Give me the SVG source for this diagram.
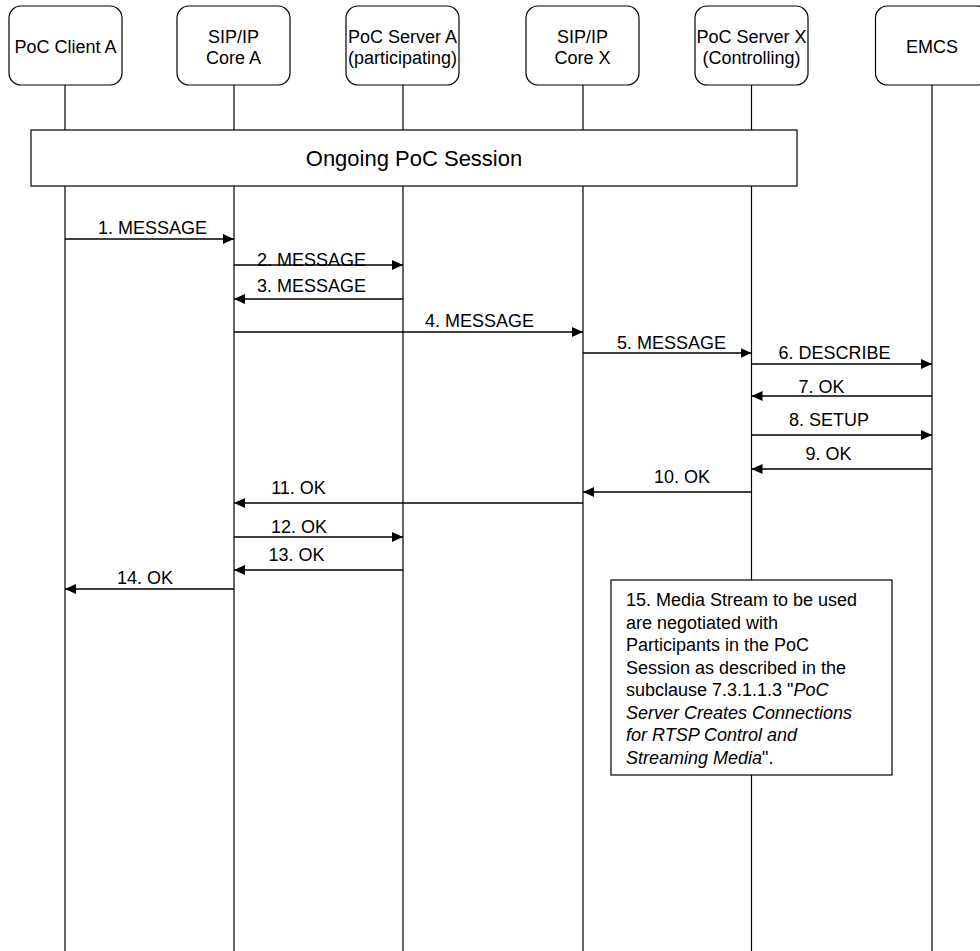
<svg xmlns="http://www.w3.org/2000/svg" width="980" height="951" viewBox="0 0 980 951">
<style>
  text { font-family: "Liberation Sans", Arial, sans-serif; font-size: 18px; fill: #000; }
  .hdr { fill: #fff; stroke: #000; stroke-width: 1.2; }
  .life { stroke: #000; stroke-width: 1.2; }
  .msg { stroke: #000; stroke-width: 1.6; fill: none; marker-end: url(#ah); }
  .box { fill: #fff; stroke: #000; stroke-width: 1.2; }
  .c { text-anchor: middle; }
  .it { font-style: italic; }
</style>
<defs>
  <marker id="ah" markerUnits="userSpaceOnUse" markerWidth="11" markerHeight="10" refX="11" refY="5" orient="auto">
    <path d="M0,0 L11,5 L0,10 z" fill="#000"/>
  </marker>
</defs>
<rect width="980" height="951" fill="#fff"/>
<g id="lifelines">
  <line class="life" x1="65" y1="85" x2="65" y2="951"/>
  <line class="life" x1="234" y1="85" x2="234" y2="951"/>
  <line class="life" x1="403" y1="85" x2="403" y2="951"/>
  <line class="life" x1="583" y1="85" x2="583" y2="951"/>
  <line class="life" x1="751.5" y1="85" x2="751.5" y2="951"/>
  <line class="life" x1="932" y1="85" x2="932" y2="951"/>
</g>
<g id="node-client-a">
  <rect class="hdr" x="9" y="6" width="113" height="79" rx="12"/>
  <text class="c" x="65.5" y="53">PoC Client A</text>
</g>
<g id="node-sipip-a">
  <rect class="hdr" x="177" y="6" width="113" height="79" rx="12"/>
  <text class="c" x="233.5" y="43">SIP/IP</text>
  <text class="c" x="233.5" y="64">Core A</text>
</g>
<g id="node-server-a">
  <rect class="hdr" x="346" y="6" width="113" height="79" rx="12"/>
  <text class="c" x="402.5" y="43">PoC Server A</text>
  <text class="c" x="402.5" y="64">(participating)</text>
</g>
<g id="node-sipip-x">
  <rect class="hdr" x="526" y="6" width="113" height="79" rx="12"/>
  <text class="c" x="582.5" y="43">SIP/IP</text>
  <text class="c" x="582.5" y="64">Core X</text>
</g>
<g id="node-server-x">
  <rect class="hdr" x="695" y="6" width="113" height="79" rx="12"/>
  <text class="c" x="751.5" y="43">PoC Server X</text>
  <text class="c" x="751.5" y="64">(Controlling)</text>
</g>
<g id="node-emcs">
  <rect class="hdr" x="875.5" y="6" width="113" height="79" rx="12"/>
  <text class="c" x="932" y="53">EMCS</text>
</g>
<g id="ongoing-session">
  <rect class="box" x="31" y="130" width="766" height="56"/>
  <text class="c" x="414" y="166" style="font-size:22px">Ongoing PoC Session</text>
</g>
<g id="connectors">
  <line class="msg" x1="65" y1="239" x2="234" y2="239"/>
  <text class="c" x="152.5" y="234">1. MESSAGE</text>
  <line class="msg" x1="234" y1="265" x2="403" y2="265"/>
  <text class="c" x="311.5" y="266">2. MESSAGE</text>
  <line class="msg" x1="403" y1="299" x2="234" y2="299"/>
  <text class="c" x="311.5" y="292">3. MESSAGE</text>
  <line class="msg" x1="234" y1="332" x2="583" y2="332"/>
  <text class="c" x="479.5" y="327">4. MESSAGE</text>
  <line class="msg" x1="583" y1="353" x2="751.5" y2="353"/>
  <text class="c" x="671.5" y="349">5. MESSAGE</text>
  <line class="msg" x1="751.5" y1="364" x2="932" y2="364"/>
  <text class="c" x="834.5" y="359">6. DESCRIBE</text>
  <line class="msg" x1="932" y1="396" x2="751.5" y2="396"/>
  <text class="c" x="821.5" y="393">7. OK</text>
  <line class="msg" x1="751.5" y1="435" x2="932" y2="435"/>
  <text class="c" x="829" y="426">8. SETUP</text>
  <line class="msg" x1="932" y1="469" x2="751.5" y2="469"/>
  <text class="c" x="828.5" y="460">9. OK</text>
  <line class="msg" x1="751.5" y1="492" x2="583" y2="492"/>
  <text class="c" x="682" y="483">10. OK</text>
  <line class="msg" x1="583" y1="503" x2="234" y2="503"/>
  <text class="c" x="298.5" y="494">11. OK</text>
  <line class="msg" x1="234" y1="537" x2="403" y2="537"/>
  <text class="c" x="299" y="533">12. OK</text>
  <line class="msg" x1="403" y1="570" x2="234" y2="570"/>
  <text class="c" x="296.5" y="561">13. OK</text>
  <line class="msg" x1="234" y1="589" x2="65" y2="589"/>
  <text class="c" x="145" y="584">14. OK</text>
</g>
<g id="note-15">
  <rect class="box" x="611" y="580" width="281" height="195"/>
  <text x="626" y="606">15. Media Stream to be used</text>
  <text x="626" y="628.5">are negotiated with</text>
  <text x="626" y="651">Participants in the PoC</text>
  <text x="626" y="673.5">Session as described in the</text>
  <text x="626" y="696">subclause 7.3.1.1.3 "<tspan class="it">PoC</tspan></text>
  <text x="626" y="718.5" class="it">Server Creates Connections</text>
  <text x="626" y="741" class="it">for RTSP Control and</text>
  <text x="626" y="763.5"><tspan class="it">Streaming Media</tspan>".</text>
</g>
</svg>
